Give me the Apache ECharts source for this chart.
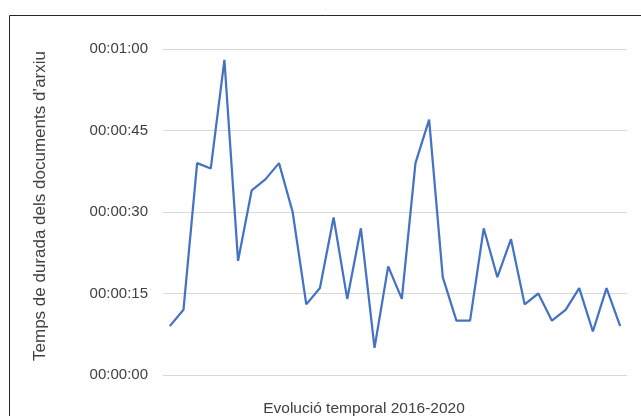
<!DOCTYPE html>
<html>
<head>
<meta charset="utf-8">
<script src="https://cdn.jsdelivr.net/npm/echarts@6/dist/echarts.min.js"></script>
<style>
    html, body { margin: 0; padding: 0; background: #fff; }
    #chart { width: 641px; height: 416px; }
</style>
</head>
<body>
<div id="chart"></div>
<script>
// one point per period, 2016-2020 (no labels shown on the axis)
const periods = [];
for (let i = 1; i <= 34; i++) periods.push('P' + i);

// durations in seconds
const durations = [9, 12, 39, 38, 58, 21, 34, 36, 39, 30, 13, 16, 29, 14, 27, 5, 20,
    14, 39, 47, 18, 10, 10, 27, 18, 25, 13, 15, 10, 12, 16, 8, 16, 9];

const yTicks = [0, 15, 30, 45, 60];

function toClock(sec) {
    let h = Math.floor(sec / 3600);
    let m = Math.floor((sec % 3600) / 60);
    let s = sec % 60;
    let pad = (n) => (n < 10 ? '0' + n : '' + n);
    return pad(h) + ':' + pad(m) + ':' + pad(s);
}

const chart = echarts.init(document.getElementById('chart'));
const options = {
    animation: false,
    textStyle: { fontFamily: 'Liberation Sans, Arial, sans-serif' },
    graphic: [
        {
            type: 'rect',
            shape: { x: 9.5, y: 15.5, width: 700, height: 500 },
            style: { fill: 'none', stroke: '#262626', lineWidth: 1 },
            silent: true
        }
    ],
    grid: {
        left: 163,
        right: 14,
        top: 49,
        bottom: 41,
        outerBoundsMode: 'none'
    },
    xAxis: {
        type: 'category',
        data: periods,
        boundaryGap: true,
        name: 'Evolució temporal 2016-2020',
        nameLocation: 'middle',
        nameGap: 26,
        nameTextStyle: { fontSize: 15.5, color: '#404040', padding: [0, 62, 0, 0] },
        axisLine: { show: false },
        axisTick: { show: false },
        axisLabel: { show: false }
    },
    yAxis: {
        type: 'value',
        min: yTicks[0],
        max: yTicks[yTicks.length - 1],
        interval: 15,
        name: 'Temps de durada dels documents d’arxiu',
        nameLocation: 'middle',
        nameGap: 114,
        nameTextStyle: { fontSize: 17, color: '#404040', padding: [0, 0, 0, 12] },
        axisLine: { show: false },
        axisTick: { show: false },
        axisLabel: {
            margin: 15,
            fontSize: 15,
            color: '#404040',
            formatter: function (value) {
                return toClock(value);
            }
        },
        splitLine: { lineStyle: { color: '#d9d9d9', width: 1 } }
    },
    series: [
        {
            type: 'line',
            data: durations,
            symbol: 'none',
            lineStyle: { color: '#4472c4', width: 2.25 }
        }
    ]
};
chart.setOption(options);
</script>
</body>
</html>
